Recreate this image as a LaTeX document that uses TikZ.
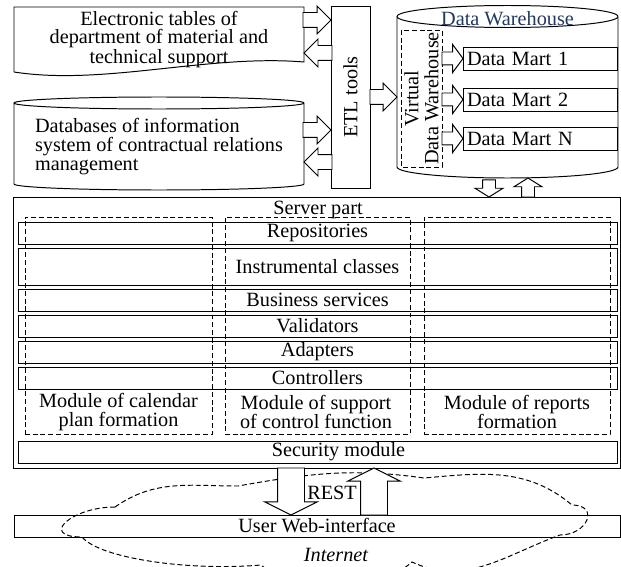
\documentclass[tikz,border=0pt]{standalone}
\usepackage{fontspec}
\setmainfont{Liberation Serif}
\usepackage{xcolor}
\usetikzlibrary{shapes,arrows,positioning,calc}
\definecolor{dwblue}{RGB}{31,56,100}

\tikzset{
  box/.style={draw, rectangle, inner sep=0pt, outer sep=0pt},
  dashbox/.style={draw, rectangle, inner sep=0pt, outer sep=0pt, dash pattern=on 3.5pt off 2pt},
  blank/.style={rectangle, inner sep=0pt, outer sep=0pt},
  row/.style={box, minimum width=14.975cm, minimum height=0.55cm},
  column/.style={dashbox, minimum height=5.425cm},
  mart/.style={box, minimum width=3.85cm, minimum height=0.575cm, text width=3.65cm, align=left},
  fatarrow/.style={draw, fill=white, single arrow, outer sep=0pt},
  smallarrow/.style={fatarrow, inner sep=0.15cm, single arrow head extend=0.1875cm},
  sidearrow/.style={fatarrow, inner sep=0.175cm, single arrow head extend=0.1625cm, minimum height=0.7cm},
  bigarrow/.style={fatarrow, inner sep=0.325cm, minimum height=1.175cm, single arrow head extend=0.325cm, single arrow tip angle=127}
}

\begin{document}
\begin{tikzpicture}[line width=0.7pt, font=\fontsize{14.4}{13.5}\selectfont]
    \useasboundingbox (0,0) rectangle (15.525,-14.175);

    % Sources
    \node[blank, minimum width=7.25cm, minimum height=1.625cm, align=center, font=\fontsize{14.4}{12.9}\selectfont] (tables) at (3.975,-0.9875) {Electronic tables of\\department of material and\\technical support};
    \draw (tables.south west) -- (tables.north west) -- (tables.north east) -- ([yshift=0.25cm]tables.south east) .. controls (5.2,-1.35) and (2.6,-2.15) .. (tables.south west);

    \node[blank, minimum width=7.25cm, minimum height=2.175cm, align=left] (dbase) at (3.975,-3.6625) {Databases of information\\system of contractual relations\\management};
    \draw (dbase.north west) -- ([yshift=0.15cm]dbase.south west) arc[start angle=180, end angle=360, x radius=3.625cm, y radius=0.15cm] -- (dbase.north east) arc[start angle=0, end angle=360, x radius=3.625cm, y radius=0.15cm];

    % ETL
    \node[box, minimum width=0.975cm, minimum height=4.55cm] (etl) at (8.7625,-2.425) {};
    \node[rotate=90] (etltext) at (etl.center) {ETL tools};

    \node[sidearrow, anchor=tip] (a1) at (etl.west |- 0,-0.5) {};
    \node[sidearrow, shape border rotate=180, anchor=tip] (a2) at (tables.east |- 0,-1.325) {};
    \node[sidearrow, anchor=tip] (a3) at (etl.west |- 0,-3.25) {};
    \node[sidearrow, shape border rotate=180, anchor=tip] (a4) at (dbase.east |- 0,-4.05) {};

    % Data warehouse
    \node[blank, minimum width=5.525cm, minimum height=3.7625cm] (dw) at (12.6875,-2.29375) {};
    \draw (dw.north west) -- (dw.south west) arc[start angle=180, end angle=360, x radius=2.7625cm, y radius=0.275cm] -- (dw.north east) arc[start angle=0, end angle=360, x radius=2.7625cm, y radius=0.275cm];
    \node[text=dwblue] (dwtitle) at ([yshift=-0.05cm]dw.north) {Data Warehouse};

    \node[sidearrow, minimum height=0.675cm, anchor=tail] (a5) at (etl.east) {};

    \node[dashbox, rotate=90, minimum width=3.425cm, minimum height=1.025cm, align=center, font=\fontsize{14.4}{14.2}\selectfont] (virtual) at (10.5375,-2.4625) {Virtual\\Data Warehouse};

    \node[mart] (mart1) at (13.5,-1.4625) {Data Mart 1};
    \node[mart, below=0.45cm of mart1] (mart2) {Data Mart 2};
    \node[mart, below=0.4cm of mart2] (mart3) {Data Mart N};

    \node[smallarrow, minimum height=0.525cm, single arrow tip angle=107, anchor=tip] (m1) at (mart1.west) {};
    \node[smallarrow, minimum height=0.525cm, single arrow tip angle=107, anchor=tip] (m2) at (mart2.west) {};
    \node[smallarrow, minimum height=0.525cm, single arrow tip angle=107, anchor=tip] (m3) at (mart3.west) {};

    % Server part
    \node[box, minimum width=15.175cm, minimum height=6.775cm] (server) at (7.9125,-8.3125) {};
    \node (servertitle) at (7.95,-5.25) {Server part};

    \node[smallarrow, minimum height=0.425cm, single arrow tip angle=116, shape border rotate=270, anchor=tip] (dwdown) at (12.225,0 |- server.north) {};
    \node[smallarrow, minimum height=0.475cm, single arrow tip angle=116, shape border rotate=90, anchor=tail] (dwup) at (13.2,0 |- server.north) {};

    \node[row] (repo) at (7.9375,-5.825) {Repositories};
    \node[row, minimum height=0.925cm, below=0.1cm of repo] (instr) {Instrumental classes};
    \node[row, below=0.1cm of instr] (busi) {Business services};
    \node[row, below=0.1cm of busi] (valid) {Validators};
    \node[row, below=0.1cm of valid] (adapt) {Adapters};
    \node[row, below=0.1cm of adapt] (ctrl) {Controllers};

    \node[column, minimum width=4.675cm] (col1) at (2.9625,-8.1375) {};
    \node[column, minimum width=4.625cm] (col2) at (7.9375,-8.1375) {};
    \node[column, minimum width=4.65cm] (col3) at (12.925,-8.1375) {};

    \node[align=center] (mod1) at (2.9625,-10.3) {Module of calendar\\plan formation};
    \node[align=center] (mod2) at (7.9,-10.3) {Module of support\\of control function};
    \node[align=center] (mod3) at (12.925,-10.3) {Module of reports\\formation};

    \node[row] (security) at (7.9375,-11.3) {};
    \node (sectext) at ([xshift=0.525cm]security.center) {Security module};

    % Internet
    \draw[dash pattern=on 3.5pt off 2pt] (2.875,-12.675) to[out=35, in=180] (5.95,-12.15)
        to[out=10, in=172] (10.6,-11.95)
        to[out=5, in=140] (14.3,-12.625)
        to[out=0, in=0, looseness=2.2] (14,-13.375)
        to[out=-160, in=-25] (10.3,-14.05)
        to[out=-140, in=-40] (6.525,-14.125)
        to[out=-175, in=-50, in looseness=0.4] (2.05,-13.425)
        to[out=180, in=180, looseness=2.5] cycle;
    \node[box, minimum width=15.15cm, minimum height=0.55cm] (web) at (7.925,-13.15) {User Web-interface};
    \node[font=\fontsize{14.4}{13.5}\selectfont\itshape] (inettext) at (8.4,-13.875) {Internet};

    \node[bigarrow, shape border rotate=270, anchor=tail] (down) at (7.275,0 |- server.south) {};
    \node[bigarrow, shape border rotate=90, anchor=tail] (up) at (9.35,0 |- web.north) {};
    \node (rest) at (8.3,-12.325) {REST};
\end{tikzpicture}
\end{document}
